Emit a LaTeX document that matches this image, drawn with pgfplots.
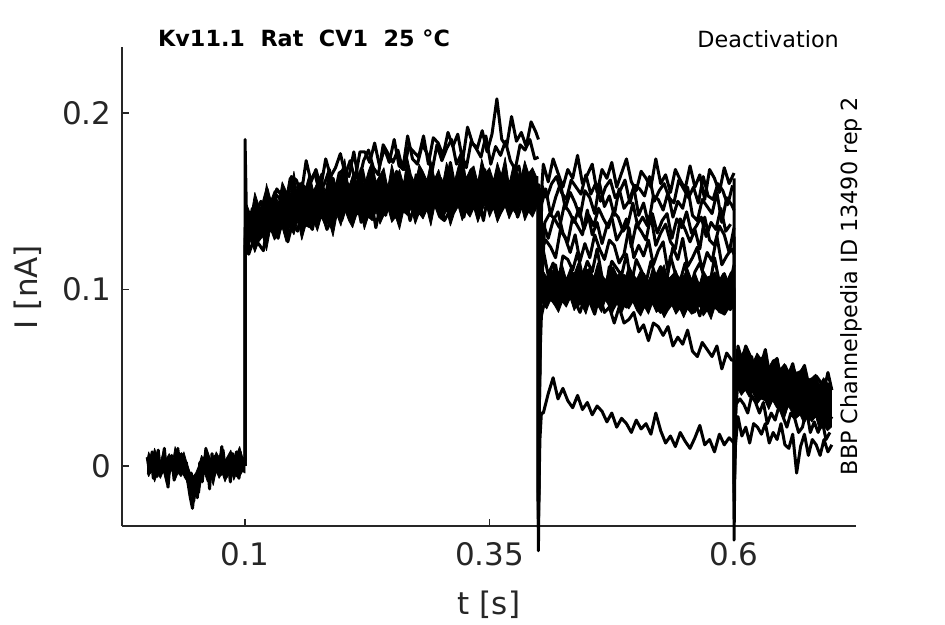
\documentclass[border=0pt]{standalone}
\usepackage{fontspec}
\setmainfont{DejaVu Sans}
\usepackage{pgfplots}
\pgfplotsset{compat=1.18}
\definecolor{axc}{RGB}{38,38,38}
\newcommand\tickfont{\fontsize{31}{37}\selectfont}
\newcommand\smallfont{\fontsize{22.3}{27}\selectfont}
\begin{document}
\begin{tikzpicture}
\useasboundingbox (-122pt,-98pt) rectangle (823pt,526pt);
\begin{axis}[
 at={(0,0)}, anchor=south west,
 scale only axis, width=734pt, height=479pt,
 xmin=-0.0258, xmax=0.7247, ymin=-0.034, ymax=0.2374,
 axis x line*=bottom, axis y line*=left,
 axis line style={axc, line width=1.1pt, -},
 xtick={0.1,0.35,0.6}, xticklabels={0.1,0.35,0.6},
 ytick={0,0.1,0.2}, yticklabels={0,0.1,0.2},
 tick style={axc, line width=1.1pt},
 major tick length=7pt,
 tick align=inside,
 ticklabel style={font=\tickfont, text=axc},
 xticklabel style={yshift=-13pt},
 yticklabel style={xshift=-7pt},
 xlabel={t [s]}, ylabel={I [nA]},
 every axis x label/.style={at={(axis description cs:0.5,-0.165)},anchor=center,font=\tickfont,text=axc},
 every axis y label/.style={at={(axis description cs:-0.128,0.499)},rotate=90,anchor=center,font=\tickfont,text=axc},
 clip=false,
 tr/.style={black, line width=3pt, line join=round, no markers},
 core/.style={fill=black, draw=black, line width=0.8pt, line join=round, no markers},
]
% dense cores where the sweeps overlap (upper edge, then lower edge backwards)
\addplot[core] coordinates {(0,0.004)(0.0015,0.008)(0.0045,0.003)(0.0075,0.01)(0.0105,0.005)(0.0135,0.002)(0.0165,0.009)(0.0195,0.004)(0.0225,0.007)(0.0255,0.001)(0.0285,0.011)(0.0315,0.005)(0.0345,0.003)(0.0375,0.008)(0.0405,0.002)(0.0435,-0.003)(0.0465,-0.006)(0.0495,-0.004)(0.0525,0.0)(0.0555,0.006)(0.0585,0.003)(0.0615,0.009)(0.0645,0.004)(0.0675,0.002)(0.0705,0.008)(0.0735,0.005)(0.0765,0.01)(0.0795,0.003)(0.0825,0.006)(0.0855,0.009)(0.0885,0.002)(0.0915,0.007)(0.0945,0.011)(0.0975,0.005)(0.1,0.004)(0.1,-0.004)(0.0975,-0.003)(0.0945,-0.006)(0.0915,-0.004)(0.0885,-0.008)(0.0855,-0.002)(0.0825,-0.005)(0.0795,-0.009)(0.0765,-0.004)(0.0735,-0.007)(0.0705,-0.003)(0.0675,-0.011)(0.0645,-0.005)(0.0615,-0.009)(0.0585,-0.004)(0.0555,-0.008)(0.0525,-0.016)(0.0495,-0.013)(0.0465,-0.019)(0.0435,-0.014)(0.0405,-0.009)(0.0375,-0.003)(0.0345,-0.006)(0.0315,-0.004)(0.0285,-0.008)(0.0255,-0.002)(0.0225,-0.005)(0.0195,-0.01)(0.0165,-0.003)(0.0135,-0.007)(0.0105,-0.004)(0.0075,-0.009)(0.0045,-0.002)(0.0015,-0.006)(0,-0.004)};
\addplot[core] coordinates {(0.1005,0.14)(0.102,0.148)(0.106,0.142)(0.11,0.155)(0.114,0.148)(0.118,0.145)(0.122,0.16)(0.126,0.15)(0.13,0.156)(0.134,0.149)(0.138,0.161)(0.142,0.156)(0.146,0.154)(0.15,0.167)(0.154,0.153)(0.158,0.161)(0.162,0.158)(0.166,0.166)(0.17,0.156)(0.174,0.161)(0.178,0.166)(0.182,0.155)(0.186,0.169)(0.19,0.162)(0.194,0.159)(0.198,0.166)(0.202,0.174)(0.206,0.158)(0.21,0.165)(0.214,0.161)(0.218,0.169)(0.222,0.159)(0.226,0.167)(0.23,0.173)(0.234,0.161)(0.238,0.165)(0.242,0.169)(0.246,0.158)(0.25,0.171)(0.254,0.163)(0.258,0.168)(0.262,0.16)(0.266,0.175)(0.27,0.165)(0.274,0.16)(0.278,0.171)(0.282,0.167)(0.286,0.162)(0.29,0.173)(0.294,0.163)(0.298,0.168)(0.302,0.16)(0.306,0.172)(0.31,0.166)(0.314,0.161)(0.318,0.17)(0.322,0.178)(0.326,0.163)(0.33,0.168)(0.334,0.17)(0.338,0.161)(0.342,0.174)(0.346,0.166)(0.35,0.169)(0.354,0.162)(0.358,0.172)(0.362,0.165)(0.366,0.175)(0.37,0.16)(0.374,0.17)(0.378,0.167)(0.382,0.163)(0.386,0.173)(0.39,0.166)(0.394,0.169)(0.398,0.164)(0.3995,0.164)(0.3995,0.148)(0.398,0.146)(0.394,0.141)(0.39,0.144)(0.386,0.139)(0.382,0.148)(0.378,0.142)(0.374,0.145)(0.37,0.14)(0.366,0.147)(0.362,0.143)(0.358,0.138)(0.354,0.146)(0.35,0.141)(0.346,0.149)(0.342,0.144)(0.338,0.138)(0.334,0.146)(0.33,0.141)(0.326,0.144)(0.322,0.139)(0.318,0.147)(0.314,0.143)(0.31,0.136)(0.306,0.145)(0.302,0.139)(0.298,0.141)(0.294,0.147)(0.29,0.136)(0.286,0.145)(0.282,0.14)(0.278,0.143)(0.274,0.137)(0.27,0.146)(0.266,0.142)(0.262,0.144)(0.258,0.134)(0.254,0.141)(0.25,0.138)(0.246,0.146)(0.242,0.142)(0.238,0.137)(0.234,0.144)(0.23,0.139)(0.226,0.141)(0.222,0.134)(0.218,0.144)(0.214,0.142)(0.21,0.135)(0.206,0.139)(0.202,0.145)(0.198,0.136)(0.194,0.142)(0.19,0.13)(0.186,0.138)(0.182,0.136)(0.178,0.141)(0.174,0.133)(0.17,0.139)(0.166,0.135)(0.162,0.136)(0.158,0.128)(0.154,0.139)(0.15,0.131)(0.146,0.135)(0.142,0.127)(0.138,0.135)(0.134,0.131)(0.13,0.128)(0.126,0.134)(0.122,0.122)(0.118,0.13)(0.114,0.127)(0.11,0.121)(0.106,0.128)(0.102,0.122)(0.1005,0.122)};
\addplot[core] coordinates {(0.403,0.104)(0.4045,0.111)(0.4085,0.107)(0.4125,0.113)(0.4165,0.108)(0.4205,0.11)(0.4245,0.114)(0.4285,0.106)(0.4325,0.112)(0.4365,0.109)(0.4405,0.115)(0.4445,0.107)(0.4485,0.111)(0.4525,0.112)(0.4565,0.107)(0.4605,0.115)(0.4645,0.109)(0.4685,0.105)(0.4725,0.111)(0.4765,0.113)(0.4805,0.108)(0.4845,0.11)(0.4885,0.106)(0.4925,0.114)(0.4965,0.109)(0.5005,0.106)(0.5045,0.111)(0.5085,0.109)(0.5125,0.104)(0.5165,0.112)(0.5205,0.107)(0.5245,0.11)(0.5285,0.114)(0.5325,0.106)(0.5365,0.108)(0.5405,0.111)(0.5445,0.105)(0.5485,0.108)(0.5525,0.112)(0.5565,0.106)(0.5605,0.109)(0.5645,0.103)(0.5685,0.111)(0.5725,0.107)(0.5765,0.108)(0.5805,0.11)(0.5845,0.105)(0.5885,0.109)(0.5925,0.105)(0.5965,0.11)(0.5995,0.106)(0.5995,0.09)(0.5965,0.088)(0.5925,0.089)(0.5885,0.086)(0.5845,0.087)(0.5805,0.09)(0.5765,0.083)(0.5725,0.088)(0.5685,0.085)(0.5645,0.091)(0.5605,0.087)(0.5565,0.086)(0.5525,0.089)(0.5485,0.084)(0.5445,0.089)(0.5405,0.086)(0.5365,0.091)(0.5325,0.088)(0.5285,0.084)(0.5245,0.089)(0.5205,0.087)(0.5165,0.092)(0.5125,0.086)(0.5085,0.09)(0.5045,0.085)(0.5005,0.088)(0.4965,0.093)(0.4925,0.089)(0.4885,0.091)(0.4845,0.086)(0.4805,0.092)(0.4765,0.088)(0.4725,0.09)(0.4685,0.094)(0.4645,0.087)(0.4605,0.091)(0.4565,0.089)(0.4525,0.093)(0.4485,0.086)(0.4445,0.091)(0.4405,0.092)(0.4365,0.088)(0.4325,0.095)(0.4285,0.09)(0.4245,0.093)(0.4205,0.087)(0.4165,0.091)(0.4125,0.094)(0.4085,0.089)(0.4045,0.092)(0.403,0.094)};
\addplot[core] coordinates {(0.6015,0.055)(0.6035,0.067)(0.6075,0.063)(0.6115,0.067)(0.6155,0.063)(0.6195,0.059)(0.6235,0.064)(0.6275,0.061)(0.6315,0.064)(0.6355,0.056)(0.6395,0.06)(0.6435,0.061)(0.6475,0.055)(0.6515,0.058)(0.6555,0.051)(0.6595,0.058)(0.6635,0.053)(0.6675,0.054)(0.6715,0.057)(0.6755,0.049)(0.6795,0.05)(0.6835,0.052)(0.6875,0.046)(0.6915,0.05)(0.6955,0.047)(0.6995,0.047)(0.6995,0.022)(0.6955,0.02)(0.6915,0.023)(0.6875,0.02)(0.6835,0.028)(0.6795,0.025)(0.6755,0.028)(0.6715,0.024)(0.6675,0.029)(0.6635,0.027)(0.6595,0.03)(0.6555,0.034)(0.6515,0.027)(0.6475,0.034)(0.6435,0.033)(0.6395,0.037)(0.6355,0.032)(0.6315,0.037)(0.6275,0.038)(0.6235,0.035)(0.6195,0.042)(0.6155,0.039)(0.6115,0.043)(0.6075,0.04)(0.6035,0.044)(0.6015,0.045)};
% baseline 0 - 0.1
\addplot[tr] coordinates {(0,0.005)(0.0025,-0.004)(0.005,0.008)(0.0075,0.001)(0.01,-0.006)(0.0125,0.003)(0.015,-0.002)(0.0175,0.01)(0.02,-0.005)(0.0225,0)(0.025,0.006)(0.0275,-0.008)(0.03,0.004)(0.0325,-0.001)(0.035,0.007)(0.0375,-0.005)(0.04,0.002)(0.0425,-0.01)(0.045,-0.004)(0.0475,-0.02)(0.05,-0.009)(0.0525,-0.015)(0.055,0.001)(0.0575,-0.004)(0.06,0.01)(0.0625,-0.002)(0.065,0.003)(0.0675,-0.007)(0.07,0.006)(0.0725,0)(0.075,-0.005)(0.0775,0.009)(0.08,-0.003)(0.0825,0.004)(0.085,-0.009)(0.0875,0.007)(0.09,0.002)(0.0925,-0.006)(0.095,0.008)(0.0975,-0.001)(0.1,0.005)};
\addplot[tr] coordinates {(0.00125,-0.003)(0.00375,0.006)(0.00625,-0.007)(0.00875,0.002)(0.01125,0.009)(0.01375,-0.004)(0.01625,0.005)(0.01875,-0.001)(0.02125,-0.012)(0.02375,0.005)(0.02625,0.003)(0.02875,-0.005)(0.03125,0.01)(0.03375,-0.002)(0.03625,0.004)(0.03875,-0.006)(0.04125,-0.008)(0.04375,-0.017)(0.04625,-0.024)(0.04875,-0.011)(0.05125,-0.018)(0.05375,0.002)(0.05625,-0.009)(0.05875,0.005)(0.06125,0.004)(0.06375,-0.013)(0.06625,0.007)(0.06875,-0.005)(0.07125,0.003)(0.07375,-0.001)(0.07625,0.011)(0.07875,-0.004)(0.08125,-0.006)(0.08375,0.005)(0.08625,0.001)(0.08875,-0.003)(0.09125,0.008)(0.09375,-0.007)(0.09625,0.005)(0.09875,0.002)(0.1,0.0)};
% activation 0.1 - 0.4
\addplot[tr] coordinates {(0.1,0.003)(0.1,0.185)(0.1015,0.14)(0.103,0.121)(0.105,0.138)(0.11,0.131)(0.115,0.146)(0.12,0.139)(0.125,0.133)(0.13,0.145)(0.135,0.141)(0.14,0.156)(0.145,0.141)(0.15,0.147)(0.155,0.155)(0.16,0.14)(0.165,0.154)(0.17,0.15)(0.175,0.159)(0.18,0.146)(0.185,0.155)(0.19,0.163)(0.195,0.151)(0.2,0.146)(0.205,0.16)(0.21,0.156)(0.215,0.151)(0.22,0.168)(0.225,0.154)(0.23,0.16)(0.235,0.15)(0.24,0.163)(0.245,0.157)(0.25,0.152)(0.255,0.167)(0.26,0.155)(0.265,0.162)(0.27,0.148)(0.275,0.165)(0.28,0.16)(0.285,0.152)(0.29,0.166)(0.295,0.157)(0.3,0.163)(0.305,0.155)(0.31,0.172)(0.315,0.157)(0.32,0.152)(0.325,0.162)(0.33,0.165)(0.335,0.154)(0.34,0.16)(0.345,0.168)(0.35,0.156)(0.355,0.162)(0.36,0.152)(0.365,0.167)(0.37,0.157)(0.375,0.165)(0.38,0.17)(0.385,0.154)(0.39,0.16)(0.395,0.164)(0.4,0.158)};
\addplot[tr] coordinates {(0.1,0.0)(0.1,0.135)(0.1025,0.133)(0.1075,0.146)(0.1125,0.134)(0.1175,0.147)(0.1225,0.157)(0.1275,0.146)(0.1325,0.157)(0.1375,0.153)(0.1425,0.147)(0.1475,0.164)(0.1525,0.162)(0.1575,0.154)(0.1625,0.173)(0.1675,0.161)(0.1725,0.168)(0.1775,0.158)(0.1825,0.174)(0.1875,0.164)(0.1925,0.169)(0.1975,0.177)(0.2025,0.165)(0.2075,0.173)(0.2125,0.162)(0.2175,0.178)(0.2225,0.178)(0.2275,0.172)(0.2325,0.183)(0.2375,0.17)(0.2425,0.18)(0.2475,0.172)(0.2525,0.185)(0.2575,0.17)(0.2625,0.168)(0.2675,0.181)(0.2725,0.178)(0.2775,0.175)(0.2825,0.187)(0.2875,0.171)(0.2925,0.186)(0.2975,0.183)(0.3025,0.176)(0.3075,0.189)(0.3125,0.181)(0.3175,0.188)(0.3225,0.173)(0.3275,0.192)(0.3325,0.183)(0.3375,0.18)(0.3425,0.19)(0.3475,0.178)(0.3525,0.188)(0.3575,0.208)(0.3625,0.185)(0.3675,0.181)(0.3725,0.198)(0.3775,0.184)(0.3825,0.189)(0.3875,0.181)(0.3925,0.195)(0.3975,0.189)(0.4,0.185)};
\addplot[tr] coordinates {(0.1,0.0)(0.1,0.128)(0.10125,0.135)(0.10625,0.13)(0.11125,0.143)(0.11625,0.15)(0.12125,0.141)(0.12625,0.138)(0.13125,0.154)(0.13625,0.151)(0.14125,0.147)(0.14625,0.163)(0.15125,0.152)(0.15625,0.16)(0.16125,0.149)(0.16625,0.161)(0.17125,0.166)(0.17625,0.155)(0.18125,0.16)(0.18625,0.168)(0.19125,0.153)(0.19625,0.166)(0.20125,0.168)(0.20625,0.164)(0.21125,0.178)(0.21625,0.161)(0.22125,0.173)(0.22625,0.179)(0.23125,0.169)(0.23625,0.165)(0.24125,0.182)(0.24625,0.177)(0.25125,0.172)(0.25625,0.179)(0.26125,0.168)(0.26625,0.187)(0.27125,0.174)(0.27625,0.171)(0.28125,0.182)(0.28625,0.177)(0.29125,0.167)(0.29625,0.182)(0.30125,0.173)(0.30625,0.18)(0.31125,0.185)(0.31625,0.171)(0.32125,0.177)(0.32625,0.169)(0.33125,0.184)(0.33625,0.18)(0.34125,0.175)(0.34625,0.187)(0.35125,0.171)(0.35625,0.181)(0.36125,0.176)(0.36625,0.184)(0.37125,0.173)(0.37625,0.168)(0.38125,0.182)(0.38625,0.179)(0.39125,0.185)(0.39625,0.174)(0.4,0.175)};
\addplot[tr] coordinates {(0.1,0.0)(0.1,0.125)(0.10375,0.12)(0.10875,0.128)(0.11375,0.126)(0.11875,0.122)(0.12375,0.14)(0.12875,0.136)(0.13375,0.129)(0.13875,0.141)(0.14375,0.127)(0.14875,0.138)(0.15375,0.133)(0.15875,0.147)(0.16375,0.139)(0.16875,0.134)(0.17375,0.146)(0.17875,0.144)(0.18375,0.134)(0.18875,0.14)(0.19375,0.155)(0.19875,0.139)(0.20375,0.148)(0.20875,0.143)(0.21375,0.152)(0.21875,0.138)(0.22375,0.147)(0.22875,0.152)(0.23375,0.135)(0.23875,0.149)(0.24375,0.142)(0.24875,0.154)(0.25375,0.141)(0.25875,0.146)(0.26375,0.152)(0.26875,0.139)(0.27375,0.149)(0.27875,0.144)(0.28375,0.159)(0.28875,0.143)(0.29375,0.148)(0.29875,0.152)(0.30375,0.139)(0.30875,0.144)(0.31375,0.157)(0.31875,0.149)(0.32375,0.141)(0.32875,0.155)(0.33375,0.146)(0.33875,0.152)(0.34375,0.139)(0.34875,0.155)(0.35375,0.148)(0.35875,0.143)(0.36375,0.159)(0.36875,0.146)(0.37375,0.151)(0.37875,0.141)(0.38375,0.149)(0.38875,0.157)(0.39375,0.144)(0.39875,0.154)(0.4,0.15)};
% deactivation 0.4 - 0.6
\addplot[tr] coordinates {(0.4,0.16)(0.4,-0.048)(0.4012,0.06)(0.4025,0.15)(0.405,0.171)(0.41,0.161)(0.415,0.174)(0.42,0.166)(0.425,0.158)(0.43,0.168)(0.435,0.163)(0.44,0.176)(0.445,0.16)(0.45,0.165)(0.455,0.171)(0.46,0.155)(0.465,0.168)(0.47,0.163)(0.475,0.172)(0.48,0.158)(0.485,0.166)(0.49,0.174)(0.495,0.161)(0.5,0.156)(0.505,0.167)(0.51,0.163)(0.515,0.158)(0.52,0.174)(0.525,0.16)(0.53,0.165)(0.535,0.155)(0.54,0.168)(0.545,0.162)(0.55,0.157)(0.555,0.17)(0.56,0.158)(0.565,0.165)(0.57,0.151)(0.575,0.168)(0.58,0.163)(0.585,0.155)(0.59,0.169)(0.595,0.16)(0.6,0.166)};
\addplot[tr] coordinates {(0.4,0.15)(0.4,-0.02)(0.4015,0.08)(0.4035,0.159)(0.4085,0.152)(0.4135,0.16)(0.4185,0.164)(0.4235,0.155)(0.4285,0.151)(0.4335,0.162)(0.4385,0.158)(0.4435,0.154)(0.4485,0.165)(0.4535,0.154)(0.4585,0.16)(0.4635,0.15)(0.4685,0.158)(0.4735,0.162)(0.4785,0.152)(0.4835,0.156)(0.4885,0.162)(0.4935,0.149)(0.4985,0.159)(0.5035,0.157)(0.5085,0.153)(0.5135,0.164)(0.5185,0.15)(0.5235,0.156)(0.5285,0.16)(0.5335,0.152)(0.5385,0.149)(0.5435,0.162)(0.5485,0.157)(0.5535,0.152)(0.5585,0.158)(0.5635,0.149)(0.5685,0.164)(0.5735,0.153)(0.5785,0.151)(0.5835,0.16)(0.5885,0.156)(0.5935,0.148)(0.5985,0.159)};
\addplot[tr] coordinates {(0.4,0.155)(0.4,-0.035)(0.4012,0.08)(0.4025,0.147)(0.4075,0.157)(0.4125,0.142)(0.4175,0.152)(0.4225,0.16)(0.4275,0.146)(0.4325,0.155)(0.4375,0.149)(0.4425,0.141)(0.4475,0.156)(0.4525,0.152)(0.4575,0.143)(0.4625,0.16)(0.4675,0.147)(0.4725,0.153)(0.4775,0.142)(0.4825,0.157)(0.4875,0.146)(0.4925,0.15)(0.4975,0.158)(0.5025,0.142)(0.5075,0.149)(0.5125,0.137)(0.5175,0.153)(0.5225,0.151)(0.5275,0.145)(0.5325,0.155)(0.5375,0.141)(0.5425,0.15)(0.5475,0.146)(0.5525,0.158)(0.5575,0.142)(0.5625,0.139)(0.5675,0.151)(0.5725,0.147)(0.5775,0.143)(0.5825,0.155)(0.5875,0.138)(0.5925,0.152)(0.5975,0.148)(0.6,0.145)};
\addplot[tr] coordinates {(0.4,0.15)(0.4,-0.02)(0.4015,0.08)(0.4065,0.138)(0.4115,0.143)(0.4165,0.14)(0.4215,0.135)(0.4265,0.148)(0.4315,0.144)(0.4365,0.138)(0.4415,0.146)(0.4465,0.134)(0.4515,0.142)(0.4565,0.136)(0.4615,0.146)(0.4665,0.14)(0.4715,0.135)(0.4765,0.144)(0.4815,0.141)(0.4865,0.133)(0.4915,0.137)(0.4965,0.149)(0.5015,0.136)(0.5065,0.141)(0.5115,0.136)(0.5165,0.143)(0.5215,0.132)(0.5265,0.139)(0.5315,0.143)(0.5365,0.129)(0.5415,0.14)(0.5465,0.135)(0.5515,0.144)(0.5565,0.132)(0.5615,0.136)(0.5665,0.141)(0.5715,0.13)(0.5765,0.138)(0.5815,0.134)(0.5865,0.146)(0.5915,0.133)(0.5965,0.137)};
\addplot[tr] coordinates {(0.4,0.15)(0.4,-0.03)(0.4015,0.09)(0.403,0.12)(0.405,0.137)(0.41,0.129)(0.415,0.139)(0.42,0.144)(0.425,0.132)(0.43,0.127)(0.435,0.141)(0.44,0.136)(0.445,0.131)(0.45,0.145)(0.455,0.131)(0.46,0.138)(0.465,0.126)(0.47,0.136)(0.475,0.141)(0.48,0.128)(0.485,0.133)(0.49,0.14)(0.495,0.124)(0.5,0.137)(0.505,0.133)(0.51,0.128)(0.515,0.142)(0.52,0.125)(0.525,0.132)(0.53,0.137)(0.535,0.127)(0.54,0.123)(0.545,0.14)(0.55,0.134)(0.555,0.127)(0.56,0.134)(0.565,0.123)(0.57,0.141)(0.575,0.128)(0.58,0.125)(0.585,0.136)(0.59,0.131)(0.595,0.121)(0.6,0.135)};
\addplot[tr] coordinates {(0.4,0.15)(0.4,-0.025)(0.4015,0.08)(0.4025,0.122)(0.4075,0.128)(0.4125,0.124)(0.4175,0.118)(0.4225,0.134)(0.4275,0.129)(0.4325,0.121)(0.4375,0.131)(0.4425,0.116)(0.4475,0.126)(0.4525,0.118)(0.4575,0.131)(0.4625,0.123)(0.4675,0.117)(0.4725,0.128)(0.4775,0.125)(0.4825,0.115)(0.4875,0.12)(0.4925,0.135)(0.4975,0.118)(0.5025,0.125)(0.5075,0.119)(0.5125,0.128)(0.5175,0.114)(0.5225,0.122)(0.5275,0.127)(0.5325,0.11)(0.5375,0.124)(0.5425,0.117)(0.5475,0.129)(0.5525,0.113)(0.5575,0.118)(0.5625,0.124)(0.5675,0.111)(0.5725,0.121)(0.5775,0.116)(0.5825,0.13)(0.5875,0.114)(0.5925,0.119)(0.5975,0.123)(0.6,0.12)};
\addplot[tr] coordinates {(0.4,0.15)(0.4,-0.02)(0.4015,0.07)(0.403,0.1)(0.405,0.122)(0.41,0.108)(0.415,0.115)(0.42,0.103)(0.425,0.119)(0.43,0.117)(0.435,0.111)(0.44,0.121)(0.445,0.107)(0.45,0.116)(0.455,0.11)(0.46,0.123)(0.465,0.107)(0.47,0.104)(0.475,0.116)(0.48,0.112)(0.485,0.108)(0.49,0.12)(0.495,0.103)(0.5,0.117)(0.505,0.111)(0.51,0.104)(0.515,0.116)(0.52,0.107)(0.525,0.113)(0.53,0.1)(0.535,0.119)(0.54,0.109)(0.545,0.105)(0.55,0.115)(0.555,0.1)(0.56,0.11)(0.565,0.115)(0.57,0.106)(0.575,0.102)(0.58,0.118)(0.585,0.104)(0.59,0.109)(0.595,0.101)(0.6,0.114)};
\addplot[tr] coordinates {(0.4,0.15)(0.4,-0.02)(0.4015,0.07)(0.4025,0.107)(0.4075,0.105)(0.4125,0.1)(0.4175,0.114)(0.4225,0.097)(0.4275,0.104)(0.4325,0.109)(0.4375,0.099)(0.4425,0.095)(0.4475,0.112)(0.4525,0.104)(0.4575,0.099)(0.4625,0.106)(0.4675,0.095)(0.4725,0.113)(0.4775,0.1)(0.4825,0.097)(0.4875,0.108)(0.4925,0.103)(0.4975,0.093)(0.5025,0.106)(0.5075,0.097)(0.5125,0.104)(0.5175,0.109)(0.5225,0.095)(0.5275,0.101)(0.5325,0.093)(0.5375,0.108)(0.5425,0.103)(0.5475,0.098)(0.5525,0.108)(0.5575,0.092)(0.5625,0.102)(0.5675,0.097)(0.5725,0.105)(0.5775,0.094)(0.5825,0.089)(0.5875,0.103)(0.5925,0.1)(0.5975,0.106)(0.6,0.1)};
\addplot[tr] coordinates {(0.4,0.15)(0.4,-0.015)(0.4015,0.06)(0.403,0.085)(0.405,0.09)(0.41,0.1)(0.415,0.097)(0.42,0.093)(0.425,0.106)(0.43,0.094)(0.435,0.098)(0.44,0.09)(0.445,0.101)(0.45,0.096)(0.455,0.091)(0.46,0.102)(0.465,0.093)(0.47,0.098)(0.475,0.087)(0.48,0.101)(0.485,0.097)(0.49,0.09)(0.495,0.101)(0.5,0.094)(0.505,0.097)(0.51,0.09)(0.515,0.103)(0.52,0.091)(0.525,0.087)(0.53,0.095)(0.535,0.098)(0.54,0.089)(0.545,0.094)(0.55,0.1)(0.555,0.088)(0.56,0.093)(0.565,0.085)(0.57,0.097)(0.575,0.089)(0.58,0.095)(0.585,0.099)(0.59,0.086)(0.595,0.091)(0.6,0.094)};
\addplot[tr] coordinates {(0.4,0.15)(0.4,-0.02)(0.4015,0.06)(0.4025,0.1)(0.4075,0.106)(0.4125,0.094)(0.4175,0.1)(0.4225,0.105)(0.4275,0.093)(0.4325,0.099)(0.4375,0.093)(0.4425,0.087)(0.4475,0.096)(0.4525,0.093)(0.4575,0.086)(0.4625,0.097)(0.4675,0.087)(0.4725,0.09)(0.4775,0.081)(0.4825,0.09)(0.4875,0.081)(0.4925,0.083)(0.4975,0.087)(0.5025,0.076)(0.5075,0.08)(0.5125,0.071)(0.5175,0.081)(0.5225,0.079)(0.5275,0.074)(0.5325,0.079)(0.5375,0.068)(0.5425,0.073)(0.5475,0.069)(0.5525,0.077)(0.5575,0.065)(0.5625,0.062)(0.5675,0.07)(0.5725,0.066)(0.5775,0.062)(0.5825,0.068)(0.5875,0.055)(0.5925,0.064)(0.5975,0.06)(0.6,0.06)};
\addplot[tr] coordinates {(0.4,0.15)(0.4,-0.03)(0.4015,0.015)(0.403,0.03)(0.405,0.03)(0.41,0.041)(0.415,0.05)(0.42,0.038)(0.425,0.044)(0.43,0.037)(0.435,0.033)(0.44,0.04)(0.445,0.032)(0.45,0.036)(0.455,0.029)(0.46,0.034)(0.465,0.031)(0.47,0.025)(0.475,0.03)(0.48,0.022)(0.485,0.027)(0.49,0.024)(0.495,0.019)(0.5,0.026)(0.505,0.021)(0.51,0.024)(0.515,0.018)(0.52,0.03)(0.525,0.02)(0.53,0.013)(0.535,0.017)(0.54,0.011)(0.545,0.019)(0.55,0.014)(0.555,0.01)(0.56,0.016)(0.565,0.023)(0.57,0.012)(0.575,0.015)(0.58,0.008)(0.585,0.018)(0.59,0.012)(0.595,0.016)(0.6,0.013)};
% tail 0.6 - 0.7
\addplot[tr] coordinates {(0.6,0.06)(0.6,-0.042)(0.6015,0.03)(0.603,0.06)(0.604,0.068)(0.608,0.06)(0.612,0.068)(0.616,0.063)(0.62,0.056)(0.624,0.062)(0.628,0.058)(0.632,0.066)(0.636,0.053)(0.64,0.057)(0.644,0.061)(0.648,0.049)(0.652,0.057)(0.656,0.052)(0.66,0.058)(0.664,0.048)(0.668,0.052)(0.672,0.057)(0.676,0.047)(0.68,0.042)(0.684,0.051)(0.688,0.048)(0.692,0.043)(0.696,0.053)(0.7,0.043)};
\addplot[tr] coordinates {(0.6,0.1)(0.6,-0.03)(0.6012,0.035)(0.602,0.056)(0.606,0.062)(0.61,0.05)(0.614,0.056)(0.618,0.062)(0.622,0.051)(0.626,0.057)(0.63,0.051)(0.634,0.045)(0.638,0.054)(0.642,0.051)(0.646,0.044)(0.65,0.056)(0.654,0.046)(0.658,0.049)(0.662,0.04)(0.666,0.05)(0.67,0.041)(0.674,0.043)(0.678,0.047)(0.682,0.036)(0.686,0.041)(0.69,0.032)(0.694,0.042)(0.698,0.04)};
\addplot[tr] coordinates {(0.6,0.13)(0.6,-0.02)(0.6015,0.03)(0.604,0.048)(0.608,0.042)(0.612,0.048)(0.616,0.05)(0.62,0.042)(0.624,0.037)(0.628,0.046)(0.632,0.042)(0.636,0.037)(0.64,0.047)(0.644,0.038)(0.648,0.042)(0.652,0.032)(0.656,0.038)(0.66,0.041)(0.664,0.031)(0.668,0.034)(0.672,0.038)(0.676,0.026)(0.68,0.034)(0.684,0.032)(0.688,0.028)(0.692,0.037)(0.696,0.024)(0.7,0.028)};
\addplot[tr] coordinates {(0.6,0.163)(0.6,-0.015)(0.6012,0.02)(0.602,0.035)(0.606,0.038)(0.61,0.035)(0.614,0.03)(0.618,0.04)(0.622,0.036)(0.626,0.03)(0.63,0.036)(0.634,0.024)(0.638,0.03)(0.642,0.026)(0.646,0.034)(0.65,0.028)(0.654,0.022)(0.658,0.03)(0.662,0.027)(0.666,0.019)(0.67,0.022)(0.674,0.032)(0.678,0.019)(0.682,0.025)(0.686,0.019)(0.69,0.026)(0.694,0.015)(0.698,0.019)};
\addplot[tr] coordinates {(0.6,0.013)(0.6,-0.01)(0.6015,0.012)(0.604,0.028)(0.608,0.017)(0.612,0.022)(0.616,0.013)(0.62,0.024)(0.624,0.022)(0.628,0.018)(0.632,0.024)(0.636,0.013)(0.64,0.019)(0.644,0.015)(0.648,0.024)(0.652,0.012)(0.656,0.01)(0.66,0.018)(0.664,-0.004)(0.668,0.011)(0.672,0.018)(0.676,0.006)(0.68,0.015)(0.684,0.012)(0.688,0.006)(0.692,0.015)(0.696,0.008)(0.7,0.012)};
% texts
\node[anchor=base west, font=\smallfont\bfseries, inner sep=0pt] at (axis description cs:0.049,1.0) {Kv11.1\ \ Rat\ \ CV1\ \ 25 °C};
\node[anchor=base east, font=\smallfont, inner sep=0pt] at (axis description cs:0.9768,0.998) {Deactivation};
\node[rotate=90, anchor=base, font=\smallfont, inner sep=0pt] at (axis description cs:1.0027,0.501) {BBP Channelpedia ID 13490 rep 2};
\end{axis}
\end{tikzpicture}
\end{document}
